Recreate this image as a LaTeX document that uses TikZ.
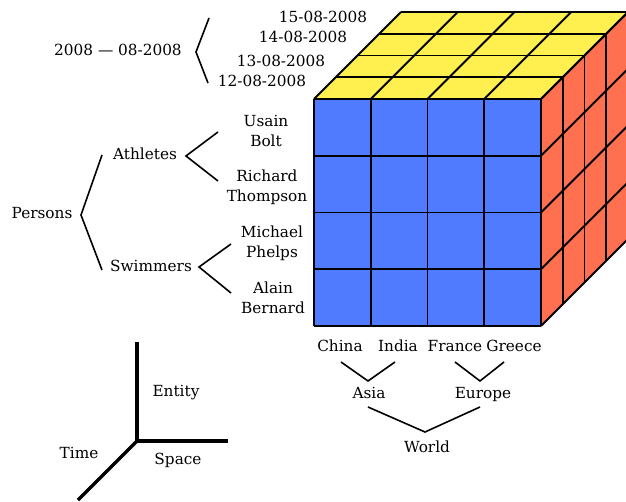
\documentclass[tikz,border=0pt]{standalone}
\usepackage{fontspec}
\setmainfont{DejaVu Serif}
\definecolor{cubeblue}{RGB}{80,123,255}
\definecolor{cubeyellow}{RGB}{255,240,80}
\definecolor{cubered}{RGB}{255,112,80}
\begin{document}
\begin{tikzpicture}[x=1pt,y=-1pt,
  lbl/.style={inner sep=0pt, font=\fontsize{15.3}{20}\selectfont, align=center},
  brace/.style={line width=1.6pt},
  axisline/.style={line width=3.5pt},
  cubeline/.style={line width=1.9pt, line join=round}]
\useasboundingbox (0,0) rectangle (626,502);

% ---- cube ----
\fill[cubeblue] (314,99) rectangle (541,326);
\fill[cubeyellow] (314,99) -- (541,99) -- (628,12) -- (401,12) -- cycle;
\fill[cubered] (541,99) -- (628,12) -- (628,239) -- (541,326) -- cycle;
\foreach \i in {0,...,4}{
  \draw[cubeline] ({314+56.75*\i},99) -- ({314+56.75*\i},326);
  \draw[cubeline] (314,{99+56.75*\i}) -- (541,{99+56.75*\i});
  \draw[cubeline] ({314+21.75*\i},{99-21.75*\i}) -- ({541+21.75*\i},{99-21.75*\i});
  \draw[cubeline] ({314+56.75*\i},99) -- ({401+56.75*\i},12);
  \draw[cubeline] ({541+21.75*\i},{99-21.75*\i}) -- ({541+21.75*\i},{326-21.75*\i});
  \draw[cubeline] (541,{99+56.75*\i}) -- (628,{12+56.75*\i});
}

% ---- time hierarchy ----
\node[lbl, anchor=base] (d15) at (323,23) {15-08-2008};
\node[lbl, anchor=base] (d14) at (303,43) {14-08-2008};
\node[lbl, anchor=base] (d13) at (281,67) {13-08-2008};
\node[lbl, anchor=base] (d12) at (262,87) {12-08-2008};
\node[lbl, anchor=base] (month) at (118,56) {2008 --- 08-2008};
\coordinate (mtop) at (209,18);
\coordinate (mmid) at (196,52);
\coordinate (mbot) at (208,83);
\draw[brace] (mtop) -- (mmid) -- (mbot);

% ---- entity hierarchy ----
\node[lbl, anchor=base] (persons) at (42,219) {Persons};
\node[lbl, anchor=base] (athletes) at (145,160) {Athletes};
\node[lbl, anchor=base] (swimmers) at (151,272) {Swimmers};
\node[lbl] (bolt) at (266,131.3) {Usain\\Bolt};
\node[lbl] (thompson) at (267,187) {Richard\\Thompson};
\node[lbl] (phelps) at (272,243) {Michael\\Phelps};
\node[lbl] (bernard) at (273,297.3) {Alain\\Bernard};
\coordinate (ptop) at (102,155);
\coordinate (pmid) at (81,215);
\coordinate (pbot) at (102,270);
\draw[brace] (ptop) -- (pmid) -- (pbot);
\coordinate (atop) at (218,132);
\coordinate (amid) at (186,156);
\coordinate (abot) at (218,181);
\draw[brace] (atop) -- (amid) -- (abot);
\coordinate (stop) at (231,244);
\coordinate (smid) at (199,267);
\coordinate (sbot) at (231,293);
\draw[brace] (stop) -- (smid) -- (sbot);

% ---- space hierarchy ----
\node[lbl, anchor=base] (china) at (340,351) {China};
\node[lbl, anchor=base] (india) at (398,351) {India};
\node[lbl, anchor=base] (france) at (455,351) {France};
\node[lbl, anchor=base] (greece) at (514,351) {Greece};
\node[lbl, anchor=base] (asia) at (369,398) {Asia};
\node[lbl, anchor=base] (europe) at (483,398) {Europe};
\node[lbl, anchor=base] (world) at (427,452) {World};
\coordinate (asl) at (341,362);
\coordinate (asm) at (368,381);
\coordinate (asr) at (395,362);
\draw[brace] (asl) -- (asm) -- (asr);
\coordinate (eul) at (455,362);
\coordinate (eum) at (480,381);
\coordinate (eur) at (504,362);
\draw[brace] (eul) -- (eum) -- (eur);
\coordinate (wol) at (368,407);
\coordinate (wom) at (425,432);
\coordinate (wor) at (480,407);
\draw[brace] (wol) -- (wom) -- (wor);

% ---- axes ----
\coordinate (origin) at (137,441);
\coordinate (eend) at (137,342);
\coordinate (send) at (228,441);
\coordinate (tend) at (78,500);
\draw[axisline] (eend) -- (origin) -- (send);
\draw[axisline] (origin) -- (tend);
\node[lbl, anchor=base] (entity) at (176,396) {Entity};
\node[lbl, anchor=base] (space) at (178,464) {Space};
\node[lbl, anchor=base] (time) at (79,458) {Time};
\end{tikzpicture}
\end{document}
